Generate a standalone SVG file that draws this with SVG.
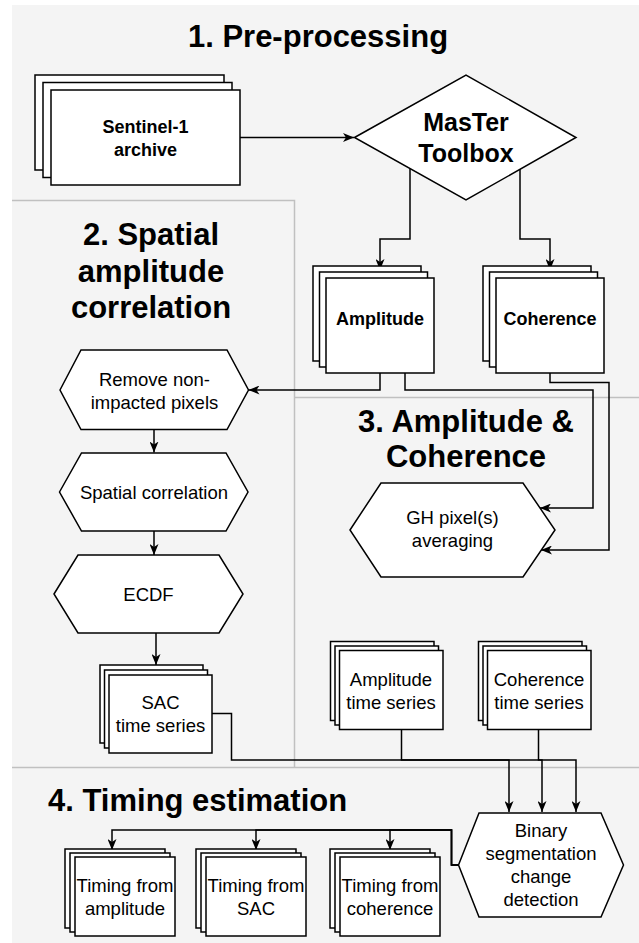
<svg xmlns="http://www.w3.org/2000/svg" width="639" height="943" viewBox="0 0 639 943">
<style>
.bg{fill:#f4f4f4;stroke:none}
.panel{fill:none;stroke:#c0c0c0;stroke-width:1.5}
.box{fill:#fff;stroke:#000;stroke-width:1.5}
.edge{fill:none;stroke:#000;stroke-width:1.5;marker-end:url(#arr)}
.title{font-family:"Liberation Sans",Arial,sans-serif;font-weight:bold;font-size:31px;fill:#000}
.t{font-family:"Liberation Sans",Arial,sans-serif;font-size:18.5px;fill:#000;text-anchor:middle}
.tb{font-family:"Liberation Sans",Arial,sans-serif;font-size:18px;font-weight:bold;fill:#000;text-anchor:middle}
</style>
<defs>
<marker id="arr" viewBox="0 0 11 9" refX="11" refY="4.5" markerWidth="11" markerHeight="9" markerUnits="userSpaceOnUse" orient="auto"><path d="M0,0 L11,4.5 L0,9 L3,4.5 Z" fill="#000"/></marker>
</defs>
<g id="panels">
<rect class="bg" x="12" y="5" width="627" height="938"/>
<path class="panel" d="M12,200.5 H294.5 V767.5 M294.5,397.5 H639 M12,767.5 H639"/>
</g>
<g id="titles">
<text class="title" x="318" y="47" text-anchor="middle">1. Pre-processing</text>
<text class="title" x="151" y="245" text-anchor="middle">2. Spatial</text>
<text class="title" x="151" y="281.5" text-anchor="middle">amplitude</text>
<text class="title" x="151" y="318" text-anchor="middle">correlation</text>
<text class="title" x="466" y="432" text-anchor="middle">3. Amplitude &amp;</text>
<text class="title" x="466" y="467" text-anchor="middle">Coherence</text>
<text class="title" x="48" y="811">4. Timing estimation</text>
</g>
<g id="connectors">
<path class="edge" d="M240,137.5 H354"/>
<path class="edge" d="M410,168.5 V239 H380 V270"/>
<path class="edge" d="M520,168.5 V239 H550 V270"/>
<path class="edge" d="M380,373 V390 H248.5"/>
<path class="edge" d="M405,373 V390 H593 V508 H540"/>
<path class="edge" d="M550,373 V382.5 H609 V550 H541"/>
<path class="edge" d="M154,429 V452.5"/>
<path class="edge" d="M154,531 V555"/>
<path class="edge" d="M156,633 V665"/>
<path class="edge" d="M211.5,713.5 H231.5 V760 H509 V812"/>
<path class="edge" d="M401.5,730 V760 H542 V812"/>
<path class="edge" d="M538.5,730 V760 H576 V812"/>
<path class="edge" d="M458.5,865 H451.5 V830 H112 V850"/>
<path class="edge" d="M458.5,865 H451.5 V830 H256 V850"/>
<path class="edge" d="M458.5,865 H451.5 V830 H390 V850"/>
</g>
<g id="sentinel">
<rect class="box" x="35" y="75" width="189" height="95"/>
<rect class="box" x="43" y="82.5" width="189" height="95"/>
<rect class="box" x="51" y="90" width="189" height="95"/>
<text class="tb" x="145.5" y="133">Sentinel-1</text>
<text class="tb" x="145.5" y="156">archive</text>
</g>
<g id="master">
<polygon class="box" points="354.5,137.5 466,75 576,137.5 466,200"/>
<text class="tb" x="466" y="131" style="font-size:25px">MasTer</text>
<text class="tb" x="466" y="162" style="font-size:25px">Toolbox</text>
</g>
<g id="amplitude">
<rect class="box" x="313" y="266" width="108" height="95"/>
<rect class="box" x="319.5" y="272" width="108" height="95"/>
<rect class="box" x="326" y="278" width="108" height="95"/>
<text class="tb" x="380" y="325">Amplitude</text>
</g>
<g id="coherence">
<rect class="box" x="483" y="266" width="108" height="95"/>
<rect class="box" x="489.5" y="272" width="108" height="95"/>
<rect class="box" x="496" y="278" width="108" height="95"/>
<text class="tb" x="550" y="325">Coherence</text>
</g>
<g id="remove">
<polygon class="box" points="60,390 81,350 227,350 248.5,390 227,429.5 81,429.5"/>
<text class="t" x="154.5" y="386">Remove non-</text>
<text class="t" x="154.5" y="409">impacted pixels</text>
</g>
<g id="spatial">
<polygon class="box" points="59.5,492 81.5,453 226,453 248,492 226,531 81.5,531"/>
<text class="t" x="154" y="498.5">Spatial correlation</text>
</g>
<g id="ecdf">
<polygon class="box" points="54,594 78,555 219,555 243,594 219,633 78,633"/>
<text class="t" x="148.5" y="600.5">ECDF</text>
</g>
<g id="sac">
<rect class="box" x="100" y="665" width="103" height="78"/>
<rect class="box" x="104.5" y="670" width="103" height="78"/>
<rect class="box" x="109" y="675" width="103" height="78"/>
<text class="t" x="160.5" y="708.5">SAC</text>
<text class="t" x="160.5" y="731.5">time series</text>
</g>
<g id="gh">
<polygon class="box" points="350,530 381,483 523,483 555,530 523,577 381,577"/>
<text class="t" x="452.5" y="524">GH pixel(s)</text>
<text class="t" x="452.5" y="547">averaging</text>
</g>
<g id="ampts">
<rect class="box" x="330.5" y="641.5" width="103.5" height="79"/>
<rect class="box" x="335" y="646" width="103.5" height="79"/>
<rect class="box" x="339.5" y="650.5" width="103.5" height="79"/>
<text class="t" x="391" y="686">Amplitude</text>
<text class="t" x="391" y="708.5">time series</text>
</g>
<g id="cohts">
<rect class="box" x="478.5" y="641.5" width="103.5" height="79"/>
<rect class="box" x="483" y="646" width="103.5" height="79"/>
<rect class="box" x="487.5" y="650.5" width="103.5" height="79"/>
<text class="t" x="539" y="686">Coherence</text>
<text class="t" x="539" y="708.5">time series</text>
</g>
<g id="binary">
<polygon class="box" points="458.5,865 479,813 601,813 623.5,865 601,917 479,917"/>
<text class="t" x="541" y="837">Binary</text>
<text class="t" x="541" y="860">segmentation</text>
<text class="t" x="541" y="883">change</text>
<text class="t" x="541" y="906">detection</text>
</g>
<g id="timing-amp">
<rect class="box" x="65" y="849" width="100" height="79"/>
<rect class="box" x="70" y="853" width="100" height="79"/>
<rect class="box" x="75" y="857" width="100" height="79"/>
<text class="t" x="125" y="892">Timing from</text>
<text class="t" x="125" y="915">amplitude</text>
</g>
<g id="timing-sac">
<rect class="box" x="196" y="849" width="100" height="79"/>
<rect class="box" x="201" y="853" width="100" height="79"/>
<rect class="box" x="206" y="857" width="100" height="79"/>
<text class="t" x="256" y="892">Timing from</text>
<text class="t" x="256" y="915">SAC</text>
</g>
<g id="timing-coh">
<rect class="box" x="330" y="849" width="100" height="79"/>
<rect class="box" x="335" y="853" width="100" height="79"/>
<rect class="box" x="340" y="857" width="100" height="79"/>
<text class="t" x="390" y="892">Timing from</text>
<text class="t" x="390" y="915">coherence</text>
</g>
</svg>
